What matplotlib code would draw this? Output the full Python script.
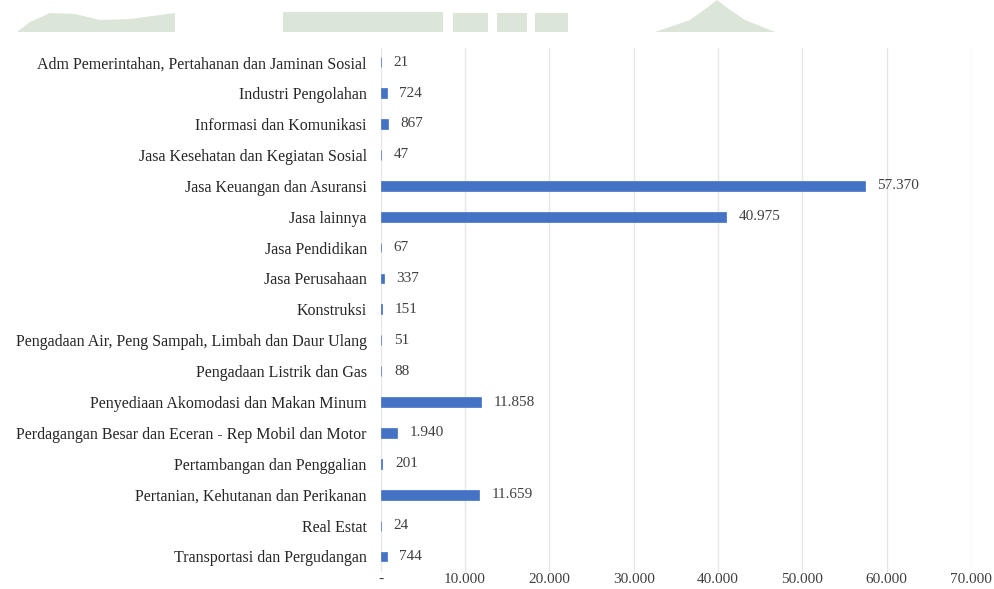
import matplotlib
matplotlib.use('Agg')
import matplotlib.pyplot as plt
from matplotlib.patches import Polygon


CATEGORIES = ['Adm Pemerintahan, Pertahanan dan Jaminan Sosial',
              'Industri Pengolahan',
              'Informasi dan Komunikasi',
              'Jasa Kesehatan dan Kegiatan Sosial',
              'Jasa Keuangan dan Asuransi',
              'Jasa lainnya',
              'Jasa Pendidikan',
              'Jasa Perusahaan',
              'Konstruksi',
              'Pengadaan Air, Peng Sampah, Limbah dan Daur Ulang',
              'Pengadaan Listrik dan Gas',
              'Penyediaan Akomodasi dan Makan Minum',
              'Perdagangan Besar dan Eceran - Rep Mobil dan Motor',
              'Pertambangan dan Penggalian',
              'Pertanian, Kehutanan dan Perikanan',
              'Real Estat',
              'Transportasi dan Pergudangan']

VALUES = [21, 724, 867, 47, 57370, 40975, 67, 337, 151, 51, 88,
          11858, 1940, 201, 11659, 24, 744]

XTICKS = [0, 10000, 20000, 30000, 40000, 50000, 60000, 70000]

W, H = 994, 589


def fmt(v):
    if v == 0:
        return '-'
    return f'{v:,}'.replace(',', '.')


def px(points):
    # pixel coords (from top-left) -> figure fraction
    return [(x / W, 1 - y / H) for x, y in points]


plt.rcParams['font.family'] = ['Liberation Serif', 'DejaVu Serif']

fig = plt.figure(figsize=(W / 100, H / 100), dpi=100)

# faint watermark left over from the scanned page
wm = '#dbe6d8'
shapes = [
    [(17, 32), (30, 22), (50, 13), (75, 14), (100, 20), (130, 19), (160, 15),
     (175, 13), (175, 32)],
    [(283, 12), (443, 12), (443, 32), (283, 32)],
    [(453, 13), (488, 13), (488, 32), (453, 32)],
    [(497, 13), (527, 13), (527, 32), (497, 32)],
    [(535, 13), (568, 13), (568, 32), (535, 32)],
    [(655, 32), (690, 20), (708, 7), (717, 0), (726, 7), (745, 20), (775, 32)],
]
for s in shapes:
    fig.patches.append(Polygon(px(s), closed=True, transform=fig.transFigure,
                               color=wm, lw=0, zorder=0))

ax = fig.add_axes([0.383, 0.029, 0.594, 0.889])
ax.set_facecolor('none')

y = list(range(len(CATEGORIES)))
ax.barh(y, VALUES, height=0.32, color='#4472c4', edgecolor='#4472c4',
        linewidth=0.5, zorder=3)

for yi, v in zip(y, VALUES):
    ax.annotate(fmt(v), (v, yi), xytext=(9, 0), textcoords='offset points',
                va='center', ha='left', fontsize=11, color='#404040')

ax.set_yticks(y)
ax.set_yticklabels(CATEGORIES, fontsize=11.5, color='#262626')
ax.set_ylim(len(CATEGORIES) - 0.5, -0.45)

ax.set_xlim(0, 70000)
ax.set_xticks(XTICKS)
ax.set_xticklabels([fmt(t) for t in XTICKS], fontsize=11, color='#404040')
ax.grid(axis='x', color='#e6e6e6', linewidth=1, zorder=0)

ax.tick_params(axis='both', length=0)
ax.tick_params(axis='y', pad=10)
ax.tick_params(axis='x', pad=1)
for side in ['top', 'right', 'bottom', 'left']:
    ax.spines[side].set_visible(False)

fig.savefig('out.png', dpi=100)
